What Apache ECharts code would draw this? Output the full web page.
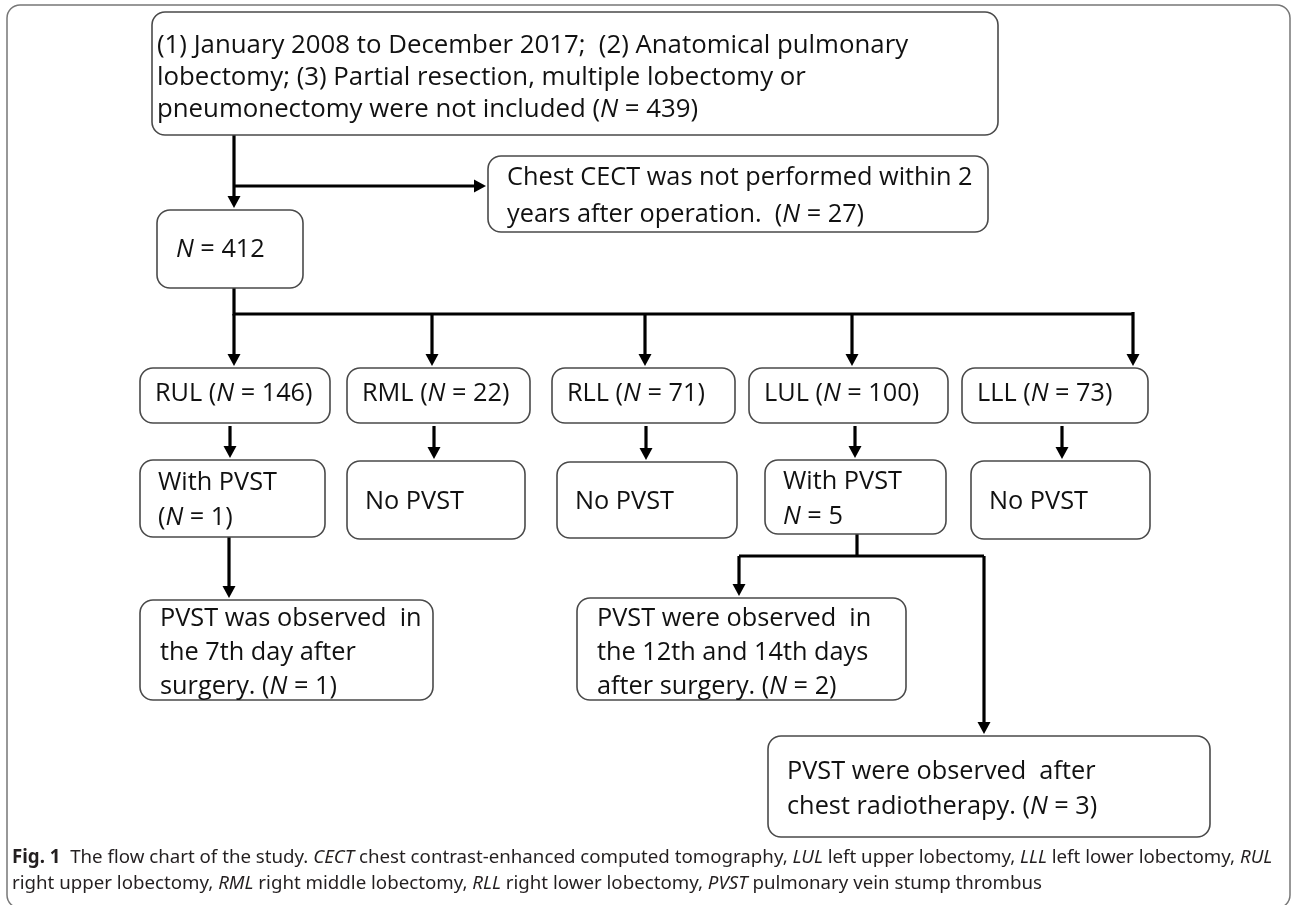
<!DOCTYPE html>
<html>
<head>
<meta charset="utf-8">
<script src="https://cdn.jsdelivr.net/npm/echarts@6/dist/echarts.min.js"></script>
<style>
  html, body { margin: 0; padding: 0; background: #fff; }
  #chart { width: 1292px; height: 905px; }
</style>
</head>
<body>
<div id="chart"></div>
<script>
// counts
const screenedN = 439;
const excludedN = 27;
const includedN = 412;
const lobeNames = ['RUL', 'RML', 'RLL', 'LUL', 'LLL'];
const lobeCounts = [146, 22, 71, 100, 73];
const pvstCounts = [1, 0, 0, 5, 0];
const rulEarlyN = 1;
const lulEarlyN = 2;
const lulRadioN = 3;

const FONT = '"Open Sans", Lato, sans-serif';
const nItalic = v => '{i|N} = ' + v;

// box texts (one string per line)
const screenLines = [
    '(1) January 2008 to December 2017;  (2) Anatomical pulmonary',
    'lobectomy; (3) Partial resection, multiple lobectomy or',
    'pneumonectomy were not included (' + nItalic(screenedN) + ')'
];
const excludedLines = [
    'Chest CECT was not performed within 2',
    'years after operation.  (' + nItalic(excludedN) + ')'
];
const includedLines = [nItalic(includedN)];
const lobeLines = lobeNames.map((n, i) => [n + ' ({i|N} = ' + lobeCounts[i] + ')']);
const pvstLines = pvstCounts.map((c, i) => {
    if (c === 0) return ['No PVST'];
    return i === 0 ? ['With PVST', '(' + nItalic(c) + ')'] : ['With PVST', nItalic(c)];
});
const rulOutcomeLines = [
    'PVST was observed  in',
    'the 7th day after',
    'surgery. (' + nItalic(rulEarlyN) + ')'
];
const lulEarlyLines = [
    'PVST were observed  in',
    'the 12th and 14th days',
    'after surgery. (' + nItalic(lulEarlyN) + ')'
];
const lulRadioLines = [
    'PVST were observed  after',
    'chest radiotherapy. (' + nItalic(lulRadioN) + ')'
];

// layout, page pixels: rect [x0, y0, x1, y1], text left x, text centre y, line height, font size
const lobeRects = [[140, 368, 330, 423], [347, 368, 530, 423], [552, 368, 735, 423], [749, 368, 948, 423], [962, 368, 1148, 423]];
const pvstRects = [[140, 460, 325, 537], [347, 461, 525, 539], [557, 462, 737, 538], [765, 460, 946, 534], [971, 461, 1150, 539]];
const FS = 25.3;

const boxes = [
    { r: [152, 12, 998, 135], tx: 157, ty: 78, lh: 32, fs: 25.8, lines: screenLines },
    { r: [488, 156, 988, 232], tx: 507, ty: 196, lh: 37, fs: FS, lines: excludedLines },
    { r: [157, 210, 303, 288], tx: 176, ty: 250, lh: 34, fs: FS, lines: includedLines }
];
lobeRects.forEach((r, i) => boxes.push({ r, tx: r[0] + 15, ty: 394, lh: 34, fs: FS, lines: lobeLines[i] }));
pvstRects.forEach((r, i) => boxes.push({
    r, tx: r[0] + 18, ty: (r[1] + r[3]) / 2 + 2, lh: 35, fs: FS, lines: pvstLines[i]
}));
boxes.push({ r: [140, 600, 433, 700], tx: 160, ty: 653, lh: 34, fs: FS, lines: rulOutcomeLines });
boxes.push({ r: [577, 598, 906, 700], tx: 597, ty: 653, lh: 34, fs: FS, lines: lulEarlyLines });
boxes.push({ r: [768, 736, 1210, 837], tx: 787, ty: 789, lh: 35, fs: FS, lines: lulRadioLines });

// connectors: points, arrow at the end or not
const links = [
    { p: [[234, 135], [234, 208]], a: true },
    { p: [[234, 186], [486, 186]], a: true },
    { p: [[234, 288], [234, 314], [1133, 314]], a: false },
    { p: [[234, 314], [234, 366]], a: true },
    { p: [[432, 314], [432, 366]], a: true },
    { p: [[645, 314], [645, 366]], a: true },
    { p: [[852, 314], [852, 366]], a: true },
    { p: [[1133, 312], [1133, 366]], a: true },
    { p: [[230, 426], [230, 458]], a: true },
    { p: [[434, 426], [434, 459]], a: true },
    { p: [[646, 426], [646, 460]], a: true },
    { p: [[855, 426], [855, 458]], a: true },
    { p: [[1062, 426], [1062, 459]], a: true },
    { p: [[229, 537], [229, 598]], a: true },
    { p: [[857, 534], [857, 556]], a: false },
    { p: [[739, 556], [984, 556]], a: false },
    { p: [[739, 556], [739, 596]], a: true },
    { p: [[984, 556], [984, 734]], a: true }
];

const chart = echarts.init(document.getElementById('chart'));

function renderBox(params, api) {
    const b = boxes[params.dataIndex];
    const p0 = api.coord([b.r[0], b.r[1]]);
    const p1 = api.coord([b.r[2], b.r[3]]);
    const rich = {
        i: { fontStyle: 'italic', fontFamily: FONT, fontSize: b.fs, lineHeight: b.lh, fill: '#111' }
    };
    return {
        type: 'group',
        children: [{
            type: 'rect',
            shape: { x: p0[0], y: p0[1], width: p1[0] - p0[0], height: p1[1] - p0[1], r: 13 },
            style: { fill: '#fff', stroke: '#4a4a4a', lineWidth: 1.6 }
        }, {
            type: 'text',
            x: api.coord([b.tx, 0])[0],
            y: api.coord([0, b.ty])[1],
            style: {
                text: b.lines.join('\n'),
                rich,
                fontFamily: FONT,
                fontSize: b.fs,
                lineHeight: b.lh,
                fill: '#111',
                align: 'left',
                verticalAlign: 'middle'
            }
        }]
    };
}

function renderLink(params, api) {
    const l = links[params.dataIndex];
    const pts = l.p.map(q => api.coord(q));
    const children = [];
    const line = pts.slice();
    if (l.a) {
        const e = pts[pts.length - 1];
        const s = pts[pts.length - 2];
        const dx = e[0] - s[0], dy = e[1] - s[1];
        const len = Math.sqrt(dx * dx + dy * dy);
        const ux = dx / len, uy = dy / len;
        const hl = 12, hw = 6.5;
        const base = [e[0] - ux * hl, e[1] - uy * hl];
        line[line.length - 1] = [e[0] - ux * (hl - 2), e[1] - uy * (hl - 2)];
        children.push({
            type: 'polygon',
            shape: { points: [e, [base[0] - uy * hw, base[1] + ux * hw], [base[0] + uy * hw, base[1] - ux * hw]] },
            style: { fill: '#000' }
        });
    }
    children.unshift({
        type: 'polyline',
        shape: { points: line },
        style: { stroke: '#000', lineWidth: 3.2, fill: null }
    });
    return { type: 'group', children };
}

const captionLine1 = '{b|Fig. 1}  The flow chart of the study. {i|CECT} chest contrast-enhanced computed tomography, {i|LUL} left upper lobectomy, {i|LLL} left lower lobectomy, {i|RUL}';
const captionLine2 = 'right upper lobectomy, {i|RML} right middle lobectomy, {i|RLL} right lower lobectomy, {i|PVST} pulmonary vein stump thrombus';
const CAP_FONT = '"Noto Sans", "Open Sans", sans-serif';
const CAP_SIZE = 18.7;

chart.setOption({
    animation: false,
    grid: { left: 0, right: 0, top: 0, bottom: 0 },
    xAxis: { type: 'value', min: 0, max: 1292, show: false },
    yAxis: { type: 'value', min: 0, max: 905, inverse: true, show: false },
    graphic: [{
        type: 'rect',
        shape: { x: 7, y: 5, width: 1283, height: 903, r: 13 },
        style: { fill: null, stroke: '#777', lineWidth: 1.5 },
        silent: true
    }, {
        type: 'text',
        left: 12,
        top: 845,
        style: {
            text: captionLine1 + '\n' + captionLine2,
            fontFamily: CAP_FONT,
            fontSize: CAP_SIZE,
            lineHeight: 26,
            fill: '#231f20',
            rich: {
                b: { fontWeight: 'bold', fontFamily: CAP_FONT, fontSize: CAP_SIZE, lineHeight: 26, fill: '#231f20' },
                i: { fontStyle: 'italic', fontFamily: CAP_FONT, fontSize: CAP_SIZE, lineHeight: 26, fill: '#231f20' }
            }
        }
    }],
    series: [{
        type: 'custom',
        silent: true,
        clip: false,
        renderItem: renderLink,
        data: links.map((l, i) => [l.p[0][0], l.p[0][1], i])
    }, {
        type: 'custom',
        silent: true,
        clip: false,
        renderItem: renderBox,
        data: boxes.map((b, i) => [b.r[0], b.r[1], i])
    }]
});
</script>
</body>
</html>
